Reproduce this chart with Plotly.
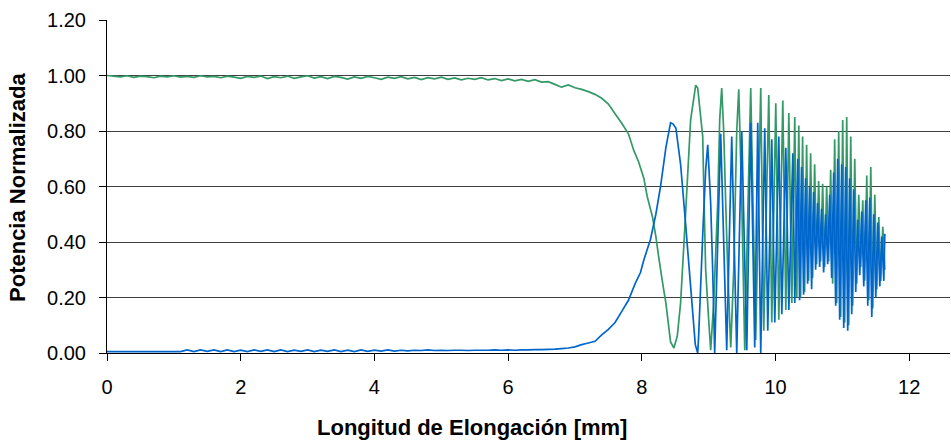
import plotly.graph_objects as go

# ---- Throughput port (green) -------------------------------------------
green_base_mm = [0.0, 0.1, 0.2, 0.3, 0.4, 0.5, 0.6, 0.7, 0.8, 0.9,
                 1.0, 1.1, 1.2, 1.3, 1.4, 1.5, 1.6, 1.7, 1.8, 1.9,
                 2.0, 2.1, 2.2, 2.3, 2.4, 2.5, 2.6, 2.7, 2.8, 2.9,
                 3.0, 3.1, 3.2, 3.3, 3.4, 3.5, 3.6, 3.7, 3.8, 3.9,
                 4.0, 4.1, 4.2, 4.3, 4.4, 4.5, 4.6, 4.7, 4.8, 4.9,
                 5.0, 5.1, 5.2, 5.3, 5.4, 5.5, 5.6, 5.7, 5.8, 5.9,
                 6.0, 6.1, 6.2, 6.3, 6.4, 6.5]
green_base_p = [1.000, 0.998, 0.995, 0.999, 0.993, 0.998, 0.996, 0.992, 0.998, 0.995,
                0.999, 0.994, 0.997, 0.993, 0.999, 0.995, 0.997, 0.992, 0.998, 0.994,
                0.990, 0.997, 0.993, 0.998, 0.989, 0.996, 0.992, 0.998, 0.990, 0.995,
                0.999, 0.991, 0.996, 0.989, 0.997, 0.993, 0.987, 0.995, 0.990, 0.997,
                0.992, 0.986, 0.994, 0.990, 0.996, 0.988, 0.993, 0.985, 0.992, 0.988,
                0.994, 0.986, 0.991, 0.984, 0.990, 0.986, 0.992, 0.984, 0.989, 0.982,
                0.988, 0.981, 0.986, 0.979, 0.985, 0.976]

green_taper_mm = [6.6, 6.7, 6.8, 6.9, 7.0, 7.1, 7.2, 7.3, 7.4, 7.5, 7.6, 7.7, 7.8,
                  7.88, 7.95, 8.03, 8.08, 8.16, 8.21, 8.25, 8.30, 8.36, 8.43, 8.48,
                  8.53, 8.58, 8.65, 8.73]
green_taper_p = [0.978, 0.968, 0.958, 0.966, 0.956, 0.950, 0.942, 0.932, 0.918, 0.897,
                 0.862, 0.828, 0.790, 0.730, 0.690, 0.630, 0.565, 0.490, 0.420, 0.350,
                 0.270, 0.180, 0.040, 0.018, 0.060, 0.180, 0.480, 0.840]

green_osc_mm = [8.806, 8.836, 8.911, 8.926, 8.955, 9.000, 9.030, 9.075, 9.135, 9.165,
                9.195, 9.225, 9.255, 9.285, 9.330, 9.375, 9.420, 9.450, 9.495, 9.540,
                9.585, 9.629, 9.704, 9.779, 9.824, 9.899, 9.944, 10.004, 10.049, 10.109,
                10.154, 10.199, 10.244, 10.288, 10.318, 10.348,
                10.375, 10.405, 10.435, 10.465, 10.495, 10.525, 10.555, 10.585, 10.615,
                10.645, 10.675, 10.705, 10.735, 10.765, 10.795, 10.825, 10.855, 10.885,
                10.915, 10.945, 10.975, 11.005, 11.035, 11.065, 11.095, 11.125, 11.155,
                11.185, 11.215, 11.245, 11.275, 11.305, 11.335, 11.365, 11.395, 11.425,
                11.455, 11.485, 11.515, 11.545, 11.575, 11.605, 11.635]
green_osc_p = [0.965, 0.955, 0.78, 0.60, 0.30, 0.12, 0.01, 0.18, 0.54, 0.84,
               0.955, 0.80, 0.54, 0.30, 0.02, 0.30, 0.80, 0.95, 0.55, 0.01,
               0.50, 0.955, 0.047, 0.955, 0.08, 0.93, 0.11, 0.90, 0.12, 0.91,
               0.155, 0.865, 0.18, 0.85, 0.20, 0.82,
               0.20, 0.78, 0.22, 0.75, 0.26, 0.72, 0.27, 0.68, 0.32,
               0.62, 0.33, 0.61, 0.31, 0.60, 0.33, 0.66, 0.25, 0.77,
               0.18, 0.80, 0.13, 0.84, 0.11, 0.85, 0.10, 0.78, 0.17,
               0.70, 0.25, 0.57, 0.31, 0.55, 0.26, 0.64, 0.19, 0.67,
               0.16, 0.57, 0.23, 0.49, 0.26, 0.455, 0.30]

# ---- Coupled port (blue) ------------------------------------------------
blue_base_mm = [0.0, 1.1, 1.2, 1.3, 1.4, 1.5, 1.6, 1.7, 1.8, 1.9,
                2.0, 2.1, 2.2, 2.3, 2.4, 2.5, 2.6, 2.7, 2.8, 2.9,
                3.0, 3.1, 3.2, 3.3, 3.4, 3.5, 3.6, 3.7, 3.8, 3.9,
                4.0, 4.1, 4.2, 4.3, 4.4, 4.5, 4.6, 4.7, 4.8, 4.9,
                5.0, 5.1, 5.2, 5.3, 5.4, 5.5, 5.6, 5.7, 5.8, 5.9,
                6.0, 6.1, 6.2, 6.3, 6.4, 6.5]
blue_base_p = [0.005, 0.005, 0.011, 0.005, 0.011, 0.006, 0.011, 0.005, 0.011, 0.005,
               0.010, 0.005, 0.011, 0.006, 0.011, 0.005, 0.011, 0.005, 0.010, 0.006,
               0.011, 0.005, 0.010, 0.006, 0.011, 0.005, 0.010, 0.005, 0.011, 0.006,
               0.010, 0.007, 0.011, 0.007, 0.010, 0.008, 0.010, 0.009, 0.011, 0.009,
               0.010, 0.009, 0.010, 0.010, 0.009, 0.010, 0.010, 0.010, 0.011, 0.010,
               0.011, 0.010, 0.011, 0.011, 0.012, 0.012]

blue_taper_mm = [6.6, 6.7, 6.8, 6.9, 7.0, 7.1, 7.2, 7.3, 7.4, 7.5, 7.6, 7.7, 7.8,
                 7.9, 7.98, 8.03, 8.13, 8.21, 8.28, 8.36, 8.43, 8.47, 8.51, 8.58,
                 8.65, 8.73, 8.80, 8.836]
blue_taper_p = [0.013, 0.014, 0.016, 0.018, 0.022, 0.030, 0.036, 0.042, 0.065, 0.085,
                0.110, 0.150, 0.190, 0.250, 0.290, 0.335, 0.410, 0.500, 0.600, 0.740,
                0.830, 0.825, 0.810, 0.680, 0.480, 0.240, 0.030, 0.000]

blue_osc_mm = [8.85, 8.91, 8.955, 8.986, 9.03, 9.06, 9.09, 9.18, 9.27, 9.345,
               9.42, 9.495, 9.57, 9.629, 9.689, 9.734, 9.779, 9.839, 9.884, 9.944,
               9.989, 10.049, 10.094, 10.154, 10.199, 10.259, 10.288, 10.333,
               10.36, 10.39, 10.42, 10.45, 10.48, 10.51, 10.54, 10.57, 10.60, 10.63,
               10.66, 10.69, 10.72, 10.75, 10.78, 10.81, 10.84, 10.87, 10.90, 10.93,
               10.96, 10.99, 11.02, 11.05, 11.08, 11.11, 11.14, 11.17, 11.20, 11.23,
               11.26, 11.29, 11.32, 11.35, 11.38, 11.41, 11.44, 11.47, 11.50, 11.53,
               11.56, 11.59, 11.62, 11.635]
blue_osc_p = [0.06, 0.42, 0.66, 0.75, 0.54, 0.30, 0.00, 0.79, 0.01, 0.78,
              0.00, 0.80, 0.01, 0.83, 0.02, 0.83, 0.00, 0.81, 0.08, 0.77,
              0.11, 0.78, 0.14, 0.74, 0.155, 0.72, 0.18, 0.70,
              0.19, 0.67, 0.21, 0.63, 0.25, 0.60, 0.23, 0.58, 0.30, 0.54,
              0.31, 0.52, 0.29, 0.50, 0.32, 0.57, 0.27, 0.65, 0.17, 0.70,
              0.12, 0.68, 0.09, 0.67, 0.08, 0.63, 0.14, 0.59, 0.22, 0.48,
              0.28, 0.51, 0.24, 0.55, 0.17, 0.56, 0.13, 0.50, 0.20, 0.47,
              0.24, 0.42, 0.26, 0.43]

x_ticks = [0, 2, 4, 6, 8, 10, 12]
y_ticks = [0.0, 0.2, 0.4, 0.6, 0.8, 1.0, 1.2]

GREEN = "#339966"
BLUE = "#0066CC"
FONT = "Liberation Sans, Arial, sans-serif"

fig = go.Figure()
fig.add_trace(go.Scatter(
    x=green_base_mm + green_taper_mm + green_osc_mm,
    y=green_base_p + green_taper_p + green_osc_p,
    mode="lines", line=dict(color=GREEN, width=1.7, simplify=False),
    hoverinfo="skip", showlegend=False))
fig.add_trace(go.Scatter(
    x=blue_base_mm + blue_taper_mm + blue_osc_mm,
    y=blue_base_p + blue_taper_p + blue_osc_p,
    mode="lines", line=dict(color=BLUE, width=1.7, simplify=False),
    hoverinfo="skip", showlegend=False))

fig.update_layout(
    width=951, height=443,
    margin=dict(l=107, r=1, t=20, b=90),
    paper_bgcolor="white", plot_bgcolor="white",
    font=dict(family=FONT, size=20, color="black"),
    xaxis=dict(range=[0, 12.61], tickvals=x_ticks, ticktext=[str(v) for v in x_ticks],
               showgrid=False, zeroline=False, showline=True, linecolor="black",
               linewidth=1, ticks="outside", ticklen=7, tickcolor="black",
               ticklabelstandoff=9, tickfont=dict(size=20)),
    yaxis=dict(range=[0, 1.2], tickvals=y_ticks, tickformat=".2f",
               showgrid=True, gridcolor="#404040", gridwidth=1, zeroline=False,
               showline=True, linecolor="black", linewidth=1, ticks="outside",
               ticklen=7, tickcolor="black", ticklabelstandoff=9,
               tickfont=dict(size=20)),
    annotations=[
        dict(text="<b>Longitud de Elongación [mm]</b>", xref="paper", yref="paper",
             x=0.433, y=-0.225, xanchor="center", yanchor="middle",
             showarrow=False, font=dict(size=22)),
        dict(text="<b>Potencia Normalizada</b>", xref="paper", yref="paper",
             x=-0.1056, y=0.4985, xanchor="center", yanchor="middle",
             textangle=-90, showarrow=False, font=dict(size=22)),
    ],
)

fig.write_html("out.html")
